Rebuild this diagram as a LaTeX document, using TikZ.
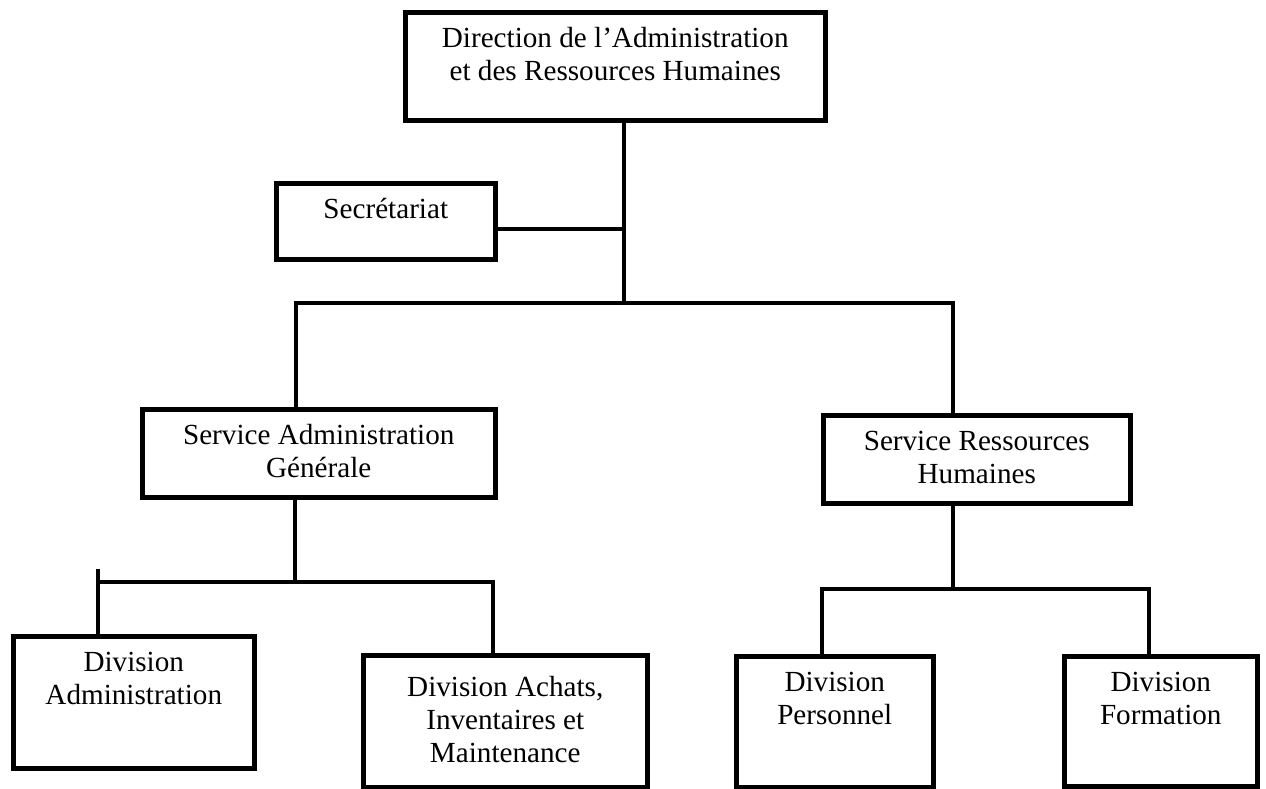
\documentclass[tikz,border=0pt]{standalone}
\usepackage{fontspec}
\setmainfont{Liberation Serif}

\tikzset{
  unit/.style={draw, line width=2.6pt, inner sep=0pt, anchor=north west},
  link/.style={line width=2.6pt}
}
% text of a box, put at its top
\newcommand{\boxtxt}[4][0.25cm]{\parbox[t][#3][t]{#2}{\centering\vspace*{#1}\strut #4}}

\begin{document}
\begin{tikzpicture}[x=0.02cm, y=-0.02cm, font={\fontsize{16.6}{18.6}\selectfont}]
  \useasboundingbox (0,0) rectangle (1266,788);

  \node[unit] (dir) at (403,10) {\boxtxt{8.40cm}{2.16cm}{Direction de l’Administration\\et des Ressources Humaines}};
  \node[unit] (sec) at (274,181) {\boxtxt{4.38cm}{1.52cm}{Secrétariat}};
  \node[unit] (sag) at (140,407) {\boxtxt{7.06cm}{1.76cm}{Service Administration\\Générale}};
  \node[unit] (srh) at (821,413) {\boxtxt{6.14cm}{1.76cm}{Service Ressources\\Humaines}};
  \node[unit] (dadm) at (11,634) {\boxtxt{4.82cm}{2.64cm}{Division\\Administration}};
  \node[unit] (dach) at (361,653) {\boxtxt[0.37cm]{5.68cm}{2.64cm}{Division Achats,\\Inventaires et\\Maintenance}};
  \node[unit] (dper) at (734,654) {\boxtxt{3.94cm}{2.62cm}{Division\\Personnel}};
  \node[unit] (dfor) at (1062,654) {\boxtxt{3.86cm}{2.60cm}{Division\\Formation}};

  \coordinate (hub) at (624,303);
  \coordinate (secj) at (624,229);
  \coordinate (b1l) at (296,303);
  \coordinate (b1r) at (953,303);
  \coordinate (b2) at (295,582);
  \coordinate (b2t) at (98,569);
  \coordinate (b2l) at (98,582);
  \coordinate (b2r) at (493,582);
  \coordinate (b3) at (953,589);
  \coordinate (b3l) at (822,589);
  \coordinate (b3r) at (1149,589);

  \draw[link] (dir.south -| hub) -- (hub);
  \draw[link] (secj -| sec.east) -- (secj);
  \draw[link] (sag.north -| b1l) -- (b1l) -- (b1r) -- (srh.north -| b1r);

  \draw[link] (sag.south -| b2) -- (b2);
  \draw[link] (b2t) -- (dadm.north -| b2t);
  \draw[link] (b2l) -- (b2r) -- (dach.north -| b2r);

  \draw[link] (srh.south -| b3) -- (b3);
  \draw[link] (dper.north -| b3l) -- (b3l) -- (b3r) -- (dfor.north -| b3r);
\end{tikzpicture}
\end{document}
